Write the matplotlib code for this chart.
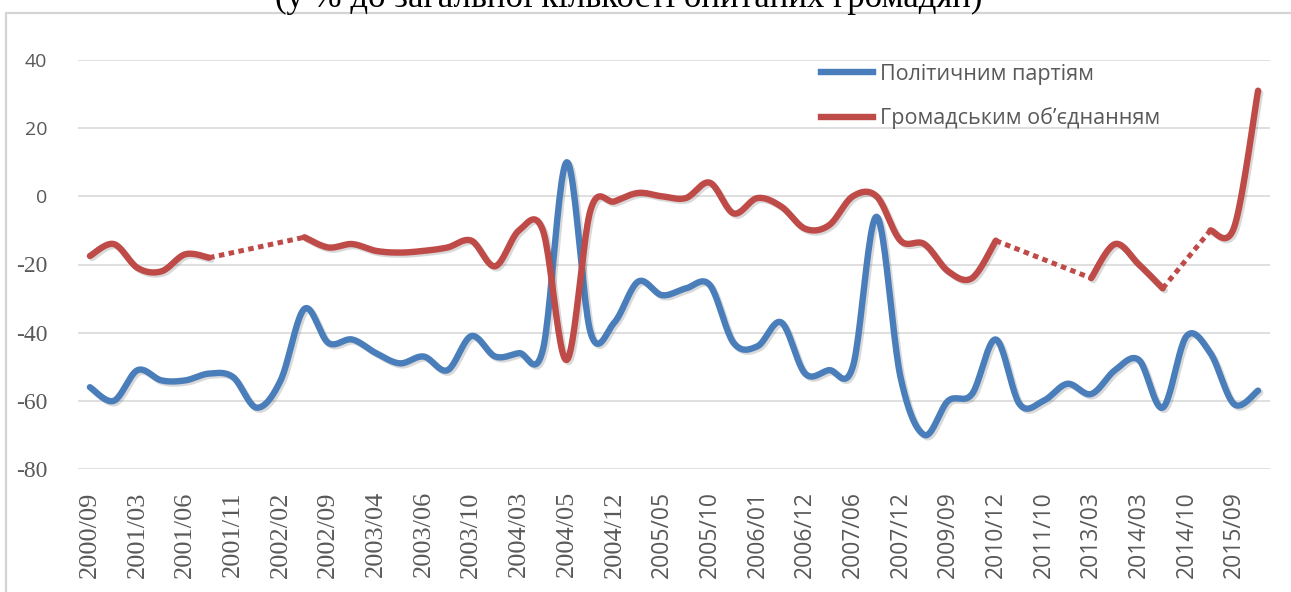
import numpy as np
import matplotlib.pyplot as plt
import matplotlib.patheffects as pe
from matplotlib.lines import Line2D
from matplotlib.patches import Rectangle

# survey dates, every other one gets a label
dates = ["2000/09", "2001/03", "2001/06", "2001/11", "2002/02", "2002/09",
         "2003/04", "2003/06", "2003/10", "2004/03", "2004/05", "2004/12",
         "2005/05", "2005/10", "2006/01", "2006/12", "2007/06", "2007/12",
         "2009/09", "2010/12", "2011/10", "2013/03", "2014/03", "2014/10",
         "2015/09"]

# balance of trust, %
parties = [-56, -60, -51, -54, -54, -52, -53, -62, -54, -33,
           -43, -42, -46, -49, -47, -51, -41, -47, -46, -45,
           10, -40, -37, -25, -29, -27, -26, -43, -44, -37,
           -52, -51, -50, -6, -53, -70, -60, -58, -42, -61,
           -60, -55, -58, -51, -48, -62, -41, -46, -61, -57]

nan = np.nan
civic = [-17.5, -14, -21, -22, -17, -18, nan, nan, nan, -12,
         -15, -14, -16, -16.5, -16, -15, -13, -20.5, -10, -10,
         -48, -4, -1.5, 1, 0, -0.5, 4, -5, -0.5, -3,
         -9.5, -8.5, 0, 0, -13, -14, -22, -24, -13, nan,
         nan, nan, -24, -14, -20, -27, nan, -10, -9, 31]

yticks = [-80, -60, -40, -20, 0, 20, 40]

names = ["Політичним партіям", "Громадським об’єднанням"]
title = "(у % до загальної кількості опитаних громадян)"

blue = "#4a7ebb"
red = "#be4b48"
grey_txt = "#595959"


def smooth(xs, ys, n=24):
    # bezier through the points, control points like a catmull-rom spline
    p = np.column_stack([xs, ys]).astype(float)
    if len(p) < 2:
        return p
    p = np.vstack([p[0], p, p[-1]])
    t = np.linspace(0, 1, n)[:, None]
    out = []
    for i in range(1, len(p) - 2):
        p0, p1, p2, p3 = p[i - 1], p[i], p[i + 1], p[i + 2]
        b1 = p1 + (p2 - p0) / 6
        b2 = p2 - (p3 - p1) / 6
        seg = (1 - t) ** 3 * p1 + 3 * (1 - t) ** 2 * t * b1 \
            + 3 * (1 - t) * t ** 2 * b2 + t ** 3 * p2
        out.append(seg if i == 1 else seg[1:])
    return np.vstack(out)


W, H = 1291, 592
fig = plt.figure(figsize=(W / 100, H / 100), dpi=100)

# chart frame
fig.patches.append(Rectangle((6 / W, -0.1), 1.2, (H - 13) / H + 0.1,
                             transform=fig.transFigure, fill=False,
                             edgecolor="#d4d4d4", lw=1.6, zorder=0))

fig.text(0.487, 1 - 7 / H, title, ha="center", va="baseline",
         fontsize=25, family="Liberation Serif", color="black")

ax = fig.add_axes([78 / W, (H - 469) / H, 1192 / W, 409 / H])

x = np.arange(len(parties))
shadow = [pe.SimpleLineShadow(offset=(1.5, -1.5), alpha=0.22, shadow_color="#555555"),
          pe.Normal()]

c = smooth(x, parties)
ax.plot(c[:, 0], c[:, 1], color=blue, lw=4.6, solid_capstyle="round",
        path_effects=shadow, zorder=3)

# civic series: smoothed where data exist, dotted across gaps
cv = np.array(civic)
ok = ~np.isnan(cv)
runs = []
start = None
for i, v in enumerate(ok):
    if v and start is None:
        start = i
    if not v and start is not None:
        runs.append((start, i))
        start = None
if start is not None:
    runs.append((start, len(cv)))

for a, b in runs:
    c = smooth(x[a:b], cv[a:b])
    ax.plot(c[:, 0], c[:, 1], color=red, lw=4.6, solid_capstyle="round",
            path_effects=shadow, zorder=4)
for (a0, b0), (a1, b1) in zip(runs[:-1], runs[1:]):
    ax.plot([b0 - 1, a1], [cv[b0 - 1], cv[a1]], color=red, lw=3.6,
            linestyle=(0, (1.1, 0.9)), dash_capstyle="butt", zorder=4)

ax.set_xlim(-0.5, len(parties) - 0.5)
ax.set_ylim(-80, 40)
ax.set_yticks(yticks)
ax.set_yticklabels([str(v) for v in yticks])
ax.set_xticks(x[::2])
ax.set_xticklabels(dates, rotation=90)
ax.grid(axis="y", color="#d9d9d9", lw=1.2)
ax.set_axisbelow(True)
for s in ax.spines.values():
    s.set_visible(False)
ax.tick_params(axis="both", length=0, colors=grey_txt)
ax.tick_params(axis="y", pad=22)
ax.tick_params(axis="x", pad=16)

for i, lbl in enumerate(ax.get_xticklabels()):
    if i < 12:
        lbl.set_fontfamily("Liberation Serif")
        lbl.set_fontsize(19)
    else:
        lbl.set_fontfamily("Open Sans")
        lbl.set_fontsize(16.5)
for v, lbl in zip(yticks, ax.get_yticklabels()):
    if v < 0:
        lbl.set_fontfamily("Liberation Serif")
        lbl.set_fontsize(17)
    else:
        lbl.set_fontfamily("Open Sans")
        lbl.set_fontsize(14)

handles = [Line2D([], [], color=blue, lw=4.6), Line2D([], [], color=red, lw=4.6)]
leg = ax.legend(handles, names, loc="upper left",
                bbox_to_anchor=(821 / W, 1 - 64 / H), bbox_transform=fig.transFigure,
                frameon=False, borderpad=0, borderaxespad=0, handlelength=2.4,
                handletextpad=0.35, labelspacing=1.05,
                prop={"family": "Open Sans", "size": 15.5})
for t in leg.get_texts():
    t.set_color(grey_txt)

fig.savefig("out.png", dpi=100)
